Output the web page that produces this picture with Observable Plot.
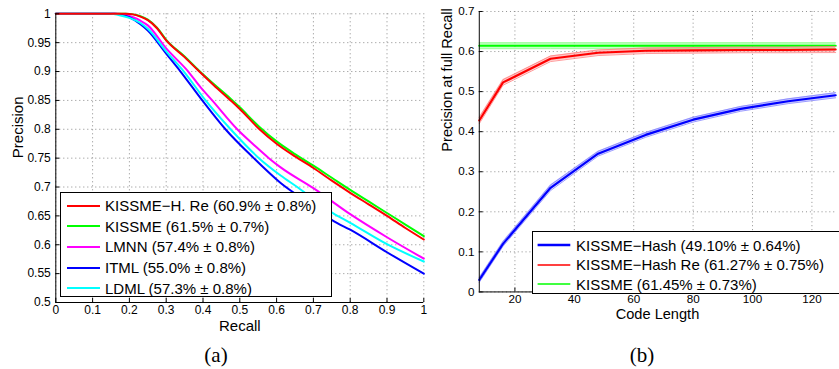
<!DOCTYPE html>
<html><head><meta charset="utf-8">
<script src="https://cdn.jsdelivr.net/npm/d3@7"></script>
<script src="https://cdn.jsdelivr.net/npm/@observablehq/plot@0.6"></script>
<style>
html,body{margin:0;padding:0;background:#fff;overflow:hidden;}
#wrap{position:relative;width:839px;height:369px;overflow:hidden;font-family:"Liberation Sans",Arial,sans-serif;background:#fff;}
.panel{position:absolute;top:0;}
.legend{position:absolute;border:1px solid #000;background:#fff;box-sizing:border-box;font-size:15px;color:#000;}
.row{display:flex;align-items:center;white-space:nowrap;}
.row svg{flex:none;}
.cap{position:absolute;font-family:"Liberation Serif","Times New Roman",serif;font-size:21px;transform:translateX(-50%);line-height:1;color:#000;}
</style></head><body><div id="wrap"></div>
<script>
// ---------- Panel (a): precision / recall ----------
const recallTicks = [0, 0.1, 0.2, 0.3, 0.4, 0.5, 0.6, 0.7, 0.8, 0.9, 1];
const precisionTicks = [0.5, 0.55, 0.6, 0.65, 0.7, 0.75, 0.8, 0.85, 0.9, 0.95, 1];

const redRecall = [0, 0.19, 0.21, 0.23, 0.25, 0.275, 0.3, 0.35, 0.39, 0.43, 0.475, 0.5, 0.552, 0.6, 0.65, 0.7, 0.75, 0.8, 0.85, 0.9, 0.95, 1.0];
const redPrecision = [1, 1, 0.999, 0.995, 0.989, 0.975, 0.954, 0.925, 0.900, 0.876, 0.850, 0.835, 0.801, 0.775, 0.753, 0.733, 0.711, 0.690, 0.670, 0.650, 0.629, 0.609];
const greenRecall = redRecall;
const greenPrecision = [1, 1, 0.999, 0.996, 0.990, 0.976, 0.955, 0.926, 0.901, 0.878, 0.853, 0.838, 0.805, 0.779, 0.757, 0.737, 0.716, 0.695, 0.675, 0.655, 0.635, 0.615];
const magentaRecall = [0, 0.17, 0.19, 0.21, 0.23, 0.25, 0.3, 0.36, 0.393, 0.425, 0.493, 0.54, 0.579, 0.611, 0.7, 0.8, 0.9, 1.0];
const magentaPrecision = [1, 1, 0.998, 0.994, 0.988, 0.98, 0.94, 0.9, 0.873, 0.85, 0.8, 0.772, 0.75, 0.734, 0.698, 0.653, 0.613, 0.576];
const cyanRecall = [0, 0.15, 0.17, 0.2, 0.23, 0.25, 0.3, 0.348, 0.407, 0.475, 0.552, 0.611, 0.656, 0.755, 0.8, 0.9, 1.0];
const cyanPrecision = [1, 1, 0.998, 0.993, 0.984, 0.974, 0.935, 0.9, 0.85, 0.8, 0.75, 0.72, 0.700, 0.654, 0.638, 0.601, 0.571];
const blueRecall = [0, 0.16, 0.18, 0.2, 0.23, 0.25, 0.3, 0.339, 0.398, 0.461, 0.538, 0.611, 0.7, 0.755, 0.8, 0.9, 1.0];
const bluePrecision = [1, 1, 0.998, 0.994, 0.982, 0.971, 0.931, 0.9, 0.85, 0.8, 0.75, 0.707, 0.667, 0.641, 0.626, 0.587, 0.55];

const leftNames = ["KISSME\u2212H. Re (60.9% \u00b1 0.8%)", "KISSME (61.5% \u00b1 0.7%)", "LMNN (57.4% \u00b1 0.8%)", "ITML (55.0% \u00b1 0.8%)", "LDML (57.3% \u00b1 0.8%)"];
const leftColors = ["#ff0000", "#00ff00", "#ff00ff", "#0000ff", "#00ffff"];

// ---------- Panel (b): precision at full recall vs code length ----------
const codeLength = [8, 16, 32, 48, 64, 80, 96, 112, 128];
const codeTicks = [20, 40, 60, 80, 100, 120];
const fullRecallTicks = [0, 0.1, 0.2, 0.3, 0.4, 0.5, 0.6, 0.7];
const hashPrecision = [0.030, 0.120, 0.260, 0.345, 0.392, 0.430, 0.457, 0.476, 0.491];
const hashErr = [0.006, 0.006, 0.007, 0.006, 0.006, 0.006, 0.006, 0.006, 0.0064];
const hashRePrecision = [0.428, 0.523, 0.582, 0.597, 0.602, 0.603, 0.604, 0.604, 0.605];
const hashReErr = [0.008, 0.007, 0.007, 0.007, 0.007, 0.007, 0.007, 0.007, 0.0075];
const kissmePrecision = [0.6145, 0.6145, 0.6145, 0.6145, 0.6145, 0.6145, 0.6145, 0.6145, 0.6145];
const kissmeErr = [0.0073, 0.0073, 0.0073, 0.0073, 0.0073, 0.0073, 0.0073, 0.0073, 0.0073];

const rightNames = ["KISSME\u2212Hash (49.10% \u00b1 0.64%)", "KISSME\u2212Hash Re (61.27% \u00b1 0.75%)", "KISSME (61.45% \u00b1 0.73%)"];
const rightColors = ["#0000ff", "#ff0000", "#00ff00"];
const rightBand = ["#8080ff", "#ff8080", "#80ff80"];

const FONT = '"Liberation Sans", Arial, sans-serif';
const GRID = "#8a8a8a";
const fmt = d3.format("~g");
const wrap = document.getElementById("wrap");

function pts(xs, ys) { return xs.map((x, i) => ({x, y: ys[i]})); }

// ----- left plot -----
const LW = 430, LH = 330, LML = 55.3, LMR = 6.7, LMT = 13.3, LMB = 28;
const leftInnerH = LH - LMT - LMB, leftInnerW = LW - LML - LMR;
const leftSeries = [
  {xs: greenRecall, ys: greenPrecision, c: leftColors[1]},
  {xs: magentaRecall, ys: magentaPrecision, c: leftColors[2]},
  {xs: blueRecall, ys: bluePrecision, c: leftColors[3]},
  {xs: cyanRecall, ys: cyanPrecision, c: leftColors[4]},
  {xs: redRecall, ys: redPrecision, c: leftColors[0]}
];
const leftPlot = Plot.plot({
  width: LW, height: LH, marginLeft: LML, marginRight: LMR, marginTop: LMT, marginBottom: LMB,
  style: {fontFamily: FONT, fontSize: "12px", color: "#000", background: "transparent", overflow: "visible"},
  x: {domain: [0, 1], ticks: recallTicks, tickFormat: fmt, tickSize: 0, tickPadding: 3, label: null},
  y: {domain: [0.5, 1], ticks: precisionTicks, tickFormat: fmt, tickSize: 0, tickPadding: 5, label: null},
  marks: [
    Plot.ruleX(recallTicks, {x: d => d, stroke: GRID, strokeDasharray: "1,3"}),
    Plot.ruleY(precisionTicks, {y: d => d, stroke: GRID, strokeDasharray: "1,3"}),
    ...leftSeries.map(s => Plot.line(pts(s.xs, s.ys), {x: "x", y: "y", stroke: s.c, strokeWidth: 2, curve: "monotone-x"})),
    Plot.ruleX(recallTicks, {x: d => d, stroke: "#000", insetTop: leftInnerH - 4}),
    Plot.ruleY(precisionTicks, {y: d => d, stroke: "#000", insetRight: leftInnerW - 4}),
    Plot.ruleX([0], {x: d => d, stroke: "#000"}),
    Plot.ruleY([0.5], {y: d => d, stroke: "#000"}),
    Plot.text(["Recall"], {text: d => d, frameAnchor: "bottom", dy: 28, fontSize: 15, fill: "#000"}),
    Plot.text(["Precision"], {text: d => d, frameAnchor: "left", rotate: -90, dx: -38, fontSize: 15, fill: "#000"})
  ]
});
const lp = document.createElement("div"); lp.className = "panel"; lp.style.left = "0px";
lp.appendChild(leftPlot); wrap.appendChild(lp);

// ----- right plot -----
const RW = 420, RH = 330, RML = 50.1, RMR = 3.9, RMT = 11.3, RMB = 30.7;
const rightInnerH = RH - RMT - RMB, rightInnerW = RW - RML - RMR;
const rightSeries = [
  {ys: kissmePrecision, e: kissmeErr, c: rightColors[2], b: rightBand[2]},
  {ys: hashRePrecision, e: hashReErr, c: rightColors[1], b: rightBand[1]},
  {ys: hashPrecision, e: hashErr, c: rightColors[0], b: rightBand[0]}
];
function band(ys, es) { return codeLength.map((x, i) => ({x, y: ys[i], lo: ys[i] - es[i], hi: ys[i] + es[i]})); }
const rightPlot = Plot.plot({
  width: RW, height: RH, marginLeft: RML, marginRight: RMR, marginTop: RMT, marginBottom: RMB,
  style: {fontFamily: FONT, fontSize: "12px", color: "#000", background: "transparent", overflow: "visible"},
  x: {domain: [8, 128], ticks: codeTicks, tickFormat: fmt, tickSize: 0, tickPadding: 3, label: null},
  y: {domain: [0, 0.7], ticks: fullRecallTicks, tickFormat: fmt, tickSize: 0, tickPadding: 5, label: null},
  marks: [
    Plot.ruleX(codeTicks, {x: d => d, stroke: GRID, strokeDasharray: "1,3"}),
    Plot.ruleY(fullRecallTicks, {y: d => d, stroke: GRID, strokeDasharray: "1,3"}),
    ...rightSeries.flatMap(s => {
      const d = band(s.ys, s.e);
      return [
        Plot.areaY(d, {x: "x", y1: "lo", y2: "hi", fill: s.b, fillOpacity: 0.45}),
        Plot.line(d, {x: "x", y: "lo", stroke: s.b, strokeWidth: 1, strokeOpacity: 0.8}),
        Plot.line(d, {x: "x", y: "hi", stroke: s.b, strokeWidth: 1, strokeOpacity: 0.8}),
        Plot.line(d, {x: "x", y: "y", stroke: s.c, strokeWidth: 2.2})
      ];
    }),
    Plot.ruleX(codeTicks, {x: d => d, stroke: "#000", insetTop: rightInnerH - 4}),
    Plot.ruleY(fullRecallTicks, {y: d => d, stroke: "#000", insetRight: rightInnerW - 4}),
    Plot.ruleX([8], {x: d => d, stroke: "#000"}),
    Plot.ruleY([0], {y: d => d, stroke: "#000"}),
    Plot.text(["Code Length"], {text: d => d, frameAnchor: "bottom", dy: 27.5, fontSize: 15, fill: "#000"}),
    Plot.text(["Precision at full Recall"], {text: d => d, frameAnchor: "left", rotate: -90, dx: -32.6, fontSize: 15, fill: "#000"})
  ]
});
const rp = document.createElement("div"); rp.className = "panel"; rp.style.left = "430px";
rp.appendChild(rightPlot); wrap.appendChild(rp);

// ----- legends -----
function legend(names, colors, widths, opts) {
  const box = document.createElement("div");
  box.className = "legend";
  Object.assign(box.style, {left: opts.left + "px", top: opts.top + "px", width: opts.width + "px", height: opts.height + "px", paddingTop: opts.padTop + "px"});
  names.forEach((n, i) => {
    const row = document.createElement("div");
    row.className = "row";
    row.style.height = opts.rowH + "px";
    const ns = "http://www.w3.org/2000/svg";
    const s = document.createElementNS(ns, "svg");
    s.setAttribute("width", opts.textX);
    s.setAttribute("height", 6);
    const l = document.createElementNS(ns, "line");
    l.setAttribute("x1", opts.lineX1); l.setAttribute("x2", opts.lineX2);
    l.setAttribute("y1", 3); l.setAttribute("y2", 3);
    l.setAttribute("stroke", colors[i]); l.setAttribute("stroke-width", widths[i]);
    s.appendChild(l);
    row.appendChild(s);
    const t = document.createElement("span"); t.textContent = n;
    row.appendChild(t);
    box.appendChild(row);
  });
  wrap.appendChild(box);
}
legend(leftNames, leftColors, [2.2, 2.2, 2.2, 2.2, 2.2], {left: 60, top: 192.3, width: 272, height: 105, padTop: 2.2, rowH: 20.6, lineX1: 6, lineX2: 39, textX: 44});
legend(rightNames, rightColors, [2.6, 1.6, 1.6], {left: 531.7, top: 231, width: 330, height: 63.3, padTop: 3.3, rowH: 19.6, lineX1: 4.6, lineX2: 37.3, textX: 43.3});

// ----- captions -----
[["(a)", 216], ["(b)", 642]].forEach(([t, x]) => {
  const c = document.createElement("div"); c.className = "cap"; c.textContent = t;
  c.style.left = x + "px"; c.style.top = "345px";
  wrap.appendChild(c);
});
</script></body></html>
